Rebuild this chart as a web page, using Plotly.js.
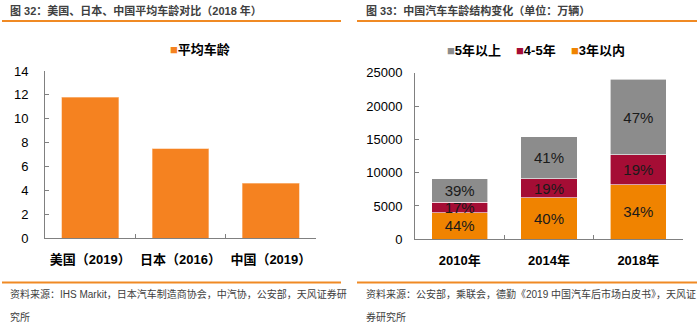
<!DOCTYPE html>
<html>
<head>
<meta charset="utf-8">
<script src="https://cdn.plot.ly/plotly-3.0.1.min.js"></script>
<style>
html,body{margin:0;padding:0;background:#fff;}
#chart{width:700px;height:327px;}
</style>
</head>
<body>
<div id="chart"></div>
<script>
// ---- Data: chart 1 (average vehicle age, years) ----
const ageCategories = ['美国（2019）', '日本（2016）', '中国（2019）'];
const ageValues = [11.8, 7.5, 4.6];
const ageSeriesName = '平均车龄';

// ---- Data: chart 2 (China vehicle age structure, 万辆) ----
const structYears = ['2010年', '2014年', '2018年'];
const within3 = [4000, 6200, 8200];
const within3Pct = ['44%', '40%', '34%'];
const from4to5 = [1550, 2900, 4500];
const from4to5Pct = ['17%', '19%', '19%'];
const over5 = [3550, 6300, 11300];
const over5Pct = ['39%', '41%', '47%'];
const seriesNames = ['3年以内', '4-5年', '5年以上'];

const W = 700, H = 327;
const px = x => x / W;
const py = y => 1 - y / H;

const FONT = 'Liberation Sans, Arial, "Noto Sans CJK SC", sans-serif';
const C_AGE = '#F58220';
const C_3 = '#F08300', C_45 = '#A50D35', C_5 = '#8C8C8C';

const pctFont = {size: 15, color: '#1a1a1a', family: FONT};
const traces = [
  {
    type: 'bar', x: ageCategories, y: ageValues, name: ageSeriesName,
    xaxis: 'x', yaxis: 'y', showlegend: false,
    marker: {color: C_AGE, line: {color: '#FBC79A', width: 0.6}}
  },
  {
    type: 'bar', x: structYears, y: within3, name: seriesNames[0],
    xaxis: 'x2', yaxis: 'y2', showlegend: false,
    text: within3Pct, textposition: 'inside', insidetextanchor: 'middle',
    constraintext: 'none', textangle: 0, textfont: pctFont,
    marker: {color: C_3, line: {color: '#FFFFFF', width: 0.6}}
  },
  {
    type: 'bar', x: structYears, y: from4to5, name: seriesNames[1],
    xaxis: 'x2', yaxis: 'y2', showlegend: false,
    text: from4to5Pct, textposition: 'inside', insidetextanchor: 'middle',
    constraintext: 'none', textangle: 0, textfont: pctFont,
    marker: {color: C_45, line: {color: '#FFFFFF', width: 0.6}}
  },
  {
    type: 'bar', x: structYears, y: over5, name: seriesNames[2],
    xaxis: 'x2', yaxis: 'y2', showlegend: false,
    text: over5Pct, textposition: 'inside', insidetextanchor: 'middle',
    constraintext: 'none', textangle: 0, textfont: pctFont,
    marker: {color: C_5, line: {color: '#FFFFFF', width: 0.6}}
  }
];

const axisCommonX = {
  type: 'category', showline: true, linecolor: '#808080', linewidth: 1,
  ticks: 'inside', ticklen: 4, tickcolor: '#808080', tickson: 'boundaries',
  showgrid: false, zeroline: false, fixedrange: true, ticklabelstandoff: 9,
  tickfont: {family: FONT, size: 13, color: '#000', weight: 'bold'}
};
const axisCommonY = {
  showline: true, linecolor: '#808080', linewidth: 1,
  ticks: 'inside', ticklen: 4, tickcolor: '#808080',
  showgrid: false, zeroline: false, fixedrange: true, tickformat: 'd',
  tickfont: {family: FONT, size: 13, color: '#000'}
};

function legendItem(x, y, color, label) {
  return {xref: 'paper', yref: 'paper', x: px(x), y: py(y), xanchor: 'left', yanchor: 'middle',
    showarrow: false,
    text: '<span style="color:' + color + '">■</span>' + label,
    font: {family: FONT, size: 13, color: '#000', weight: 'bold'}};
}
function note(x, y, text, size, weight) {
  return {xref: 'paper', yref: 'paper', x: px(x), y: py(y), xanchor: 'left', yanchor: 'middle',
    showarrow: false, text: text, font: {family: FONT, size: size, color: '#404040', weight: weight || 'normal'}};
}

const layout = {
  width: W, height: H,
  margin: {l: 0, r: 0, t: 0, b: 0},
  paper_bgcolor: '#fff', plot_bgcolor: 'rgba(0,0,0,0)',
  font: {family: FONT},
  barmode: 'stack', bargap: 0.37,
  showlegend: false,
  xaxis: Object.assign({}, axisCommonX, {domain: [px(45), px(316)], anchor: 'y'}),
  yaxis: Object.assign({}, axisCommonY, {domain: [py(238), py(71)], range: [0, 14], dtick: 2, anchor: 'x', ticklabelstandoff: 13}),
  xaxis2: Object.assign({}, axisCommonX, {domain: [px(415), px(683)], anchor: 'y2'}),
  yaxis2: Object.assign({}, axisCommonY, {domain: [py(239.3), py(72.7)], range: [0, 25000], dtick: 5000, anchor: 'x2', ticklabelstandoff: 9}),
  shapes: [
    {type: 'line', xref: 'paper', yref: 'paper', x0: px(2), x1: px(341), y0: py(21), y1: py(21), line: {color: '#F08A24', width: 2}},
    {type: 'line', xref: 'paper', yref: 'paper', x0: px(357), x1: px(697), y0: py(21), y1: py(21), line: {color: '#F08A24', width: 2}},
    {type: 'line', xref: 'paper', yref: 'paper', x0: px(2), x1: px(341), y0: py(282.5), y1: py(282.5), line: {color: '#F08A24', width: 2}},
    {type: 'line', xref: 'paper', yref: 'paper', x0: px(357), x1: px(697), y0: py(282.5), y1: py(282.5), line: {color: '#F08A24', width: 2}}
  ],
  annotations: [
    legendItem(168, 49, C_AGE, ageSeriesName),
    legendItem(445, 50, C_5, seriesNames[2]),
    legendItem(514, 50, C_45, seriesNames[1]),
    legendItem(569, 50, C_3, seriesNames[0]),
    note(8, 11, '图 32：美国、日本、中国平均车龄对比（2018 年）', 11, 'bold'),
    note(364, 11, '图 33：中国汽车车龄结构变化（单位：万辆）', 11, 'bold'),
    note(8, 294, '资料来源：IHS Markit，日本汽车制造商协会，中汽协，公安部，天风证券研', 10),
    note(8, 317, '究所', 10),
    note(364, 294, '资料来源：公安部，乘联会，德勤《2019 中国汽车后市场白皮书》，天风证', 10),
    note(364, 317, '券研究所', 10)
  ]
};

Plotly.newPlot('chart', traces, layout, {displayModeBar: false, staticPlot: true});
</script>
</body>
</html>
